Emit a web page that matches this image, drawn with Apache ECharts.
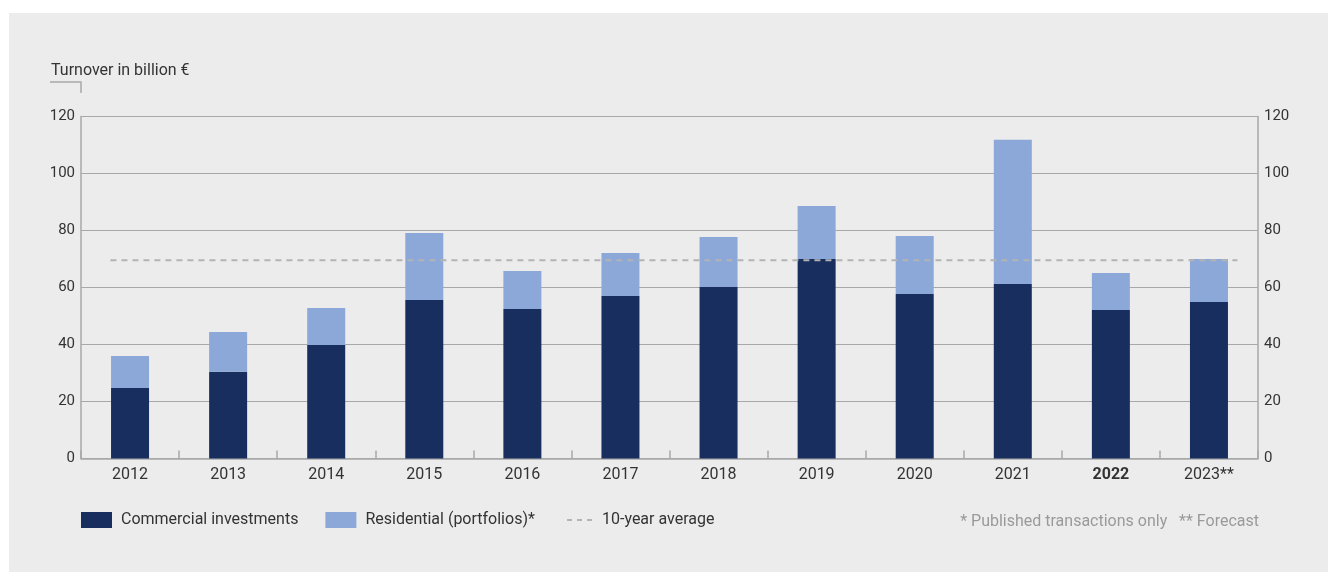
<!DOCTYPE html>
<html lang="en">
<head>
    <meta charset="UTF-8">
    <title>Turnover in billion €</title>
    <style>
        * {
            margin: 0;
            padding: 0;
        }

        body {
            background: #fff;
        }

        .box {
            position: absolute;
            left: 9px;
            top: 13px;
            width: 1319px;
            height: 559px;
            background: #ececec;
        }

        #myEcharts {
            position: absolute;
            left: 0;
            top: 0;
            width: 1329px;
            height: 572px;
        }
    </style>
</head>
<body>
    <div class="box"></div>
    <div id="myEcharts"></div>
    <script src="https://cdn.jsdelivr.net/npm/echarts@6/dist/echarts.min.js"></script>
    <script>
        var years = ['2012', '2013', '2014', '2015', '2016', '2017', '2018', '2019', '2020', '2021', '2022', '2023**'];
        var commercial = [24.7, 30.4, 39.8, 55.6, 52.5, 57.0, 60.2, 70.0, 57.7, 61.2, 52.1, 54.9];
        var residential = [11.3, 14.0, 13.0, 23.5, 13.3, 15.1, 17.5, 18.6, 20.4, 50.6, 13.0, 15.1];
        var average = 69.6;
        // the dashed line runs from just before the first bar to just after the last one
        var averageSpan = [-0.2, 11.29];
        var yTicks = [0, 120, 20];

        var fontFamily = 'Roboto, "Noto Sans", sans-serif';
        var textColor = '#333';
        var lineGray = '#a8a8a8';

        var myEcharts = echarts.init(document.getElementById('myEcharts'), null, { renderer: 'canvas' });

        var yAxisBase = {
            type: 'value',
            min: yTicks[0],
            max: yTicks[1],
            interval: yTicks[2],
            axisLine: { show: true, onZero: false, lineStyle: { color: lineGray, width: 1.5 } },
            axisTick: { show: false },
            axisLabel: {
                color: textColor,
                fontSize: 15,
                fontFamily: fontFamily,
                margin: 6,
                padding: [0, 0, 8, 0]
            }
        };

        var option = {
            animation: false,
            textStyle: { fontFamily: fontFamily },
            grid: {
                left: 81,
                right: 71,
                top: 116.5,
                bottom: 113.5,
                containLabel: false
            },
            xAxis: [{
                type: 'category',
                data: years,
                axisLine: { lineStyle: { color: lineGray, width: 1.5 } },
                axisTick: { show: true, inside: true, length: 8, lineStyle: { color: lineGray, width: 1.5 } },
                axisLabel: {
                    color: textColor,
                    fontSize: 16,
                    margin: 8,
                    formatter: function (v) {
                        return v === '2022' ? '{b|' + v + '}' : v;
                    },
                    rich: {
                        b: { fontWeight: 'bold', fontSize: 16, color: textColor, fontFamily: fontFamily }
                    }
                }
            }, {
                type: 'value',
                min: -0.5,
                max: 11.5,
                show: false
            }],
            yAxis: [
                echarts.util.merge({
                    position: 'left',
                    splitLine: { show: true, lineStyle: { color: lineGray, width: 1.2 } }
                }, yAxisBase, true),
                echarts.util.merge({
                    position: 'right',
                    splitLine: { show: false },
                    axisLabel: { align: 'left' }
                }, yAxisBase, false)
            ],
            legend: [{
                left: 81,
                top: 512,
                padding: 0,
                itemWidth: 31,
                itemHeight: 16,
                itemGap: 27,
                icon: 'rect',
                selectedMode: false,
                textStyle: { color: textColor, fontSize: 16, padding: [6, 0, 0, 4] },
                data: ['Commercial investments', 'Residential (portfolios)*']
            }, {
                left: 567,
                top: 512,
                padding: 0,
                itemWidth: 25,
                itemHeight: 16,
                selectedMode: false,
                textStyle: { color: textColor, fontSize: 16, padding: [6, 0, 0, 5] },
                data: [{
                    name: '10-year average',
                    icon: 'path://M0,7h5v2h-5z M10,7h5v2h-5z M20,7h5v2h-5z',
                    itemStyle: { color: '#b3b3b3' }
                }]
            }],
            graphic: [{
                type: 'text',
                left: 51,
                top: 63,
                style: { text: 'Turnover in billion €', fill: textColor, fontSize: 16, fontFamily: fontFamily }
            }, {
                type: 'polyline',
                shape: { points: [[50, 82], [81, 82], [81, 93]] },
                style: { stroke: lineGray, lineWidth: 1.5, fill: null }
            }, {
                type: 'text',
                right: 70,
                top: 514,
                style: {
                    text: '* Published transactions only   ** Forecast',
                    fill: '#9a9a9a',
                    fontSize: 16,
                    fontFamily: fontFamily
                }
            }],
            series: [{
                name: 'Commercial investments',
                type: 'bar',
                stack: 'total',
                barWidth: 38,
                itemStyle: { color: '#172e5e' },
                data: commercial
            }, {
                name: 'Residential (portfolios)*',
                type: 'bar',
                stack: 'total',
                barWidth: 38,
                itemStyle: { color: '#8ba8d8' },
                data: residential
            }, {
                name: '10-year average',
                type: 'line',
                xAxisIndex: 1,
                symbol: 'none',
                silent: true,
                z: 5,
                lineStyle: { color: '#b3b3b3', width: 2, type: [6, 5] },
                itemStyle: { color: '#b3b3b3' },
                data: [[averageSpan[0], average], [averageSpan[1], average]]
            }]
        };

        myEcharts.setOption(option);
    </script>
</body>
</html>
